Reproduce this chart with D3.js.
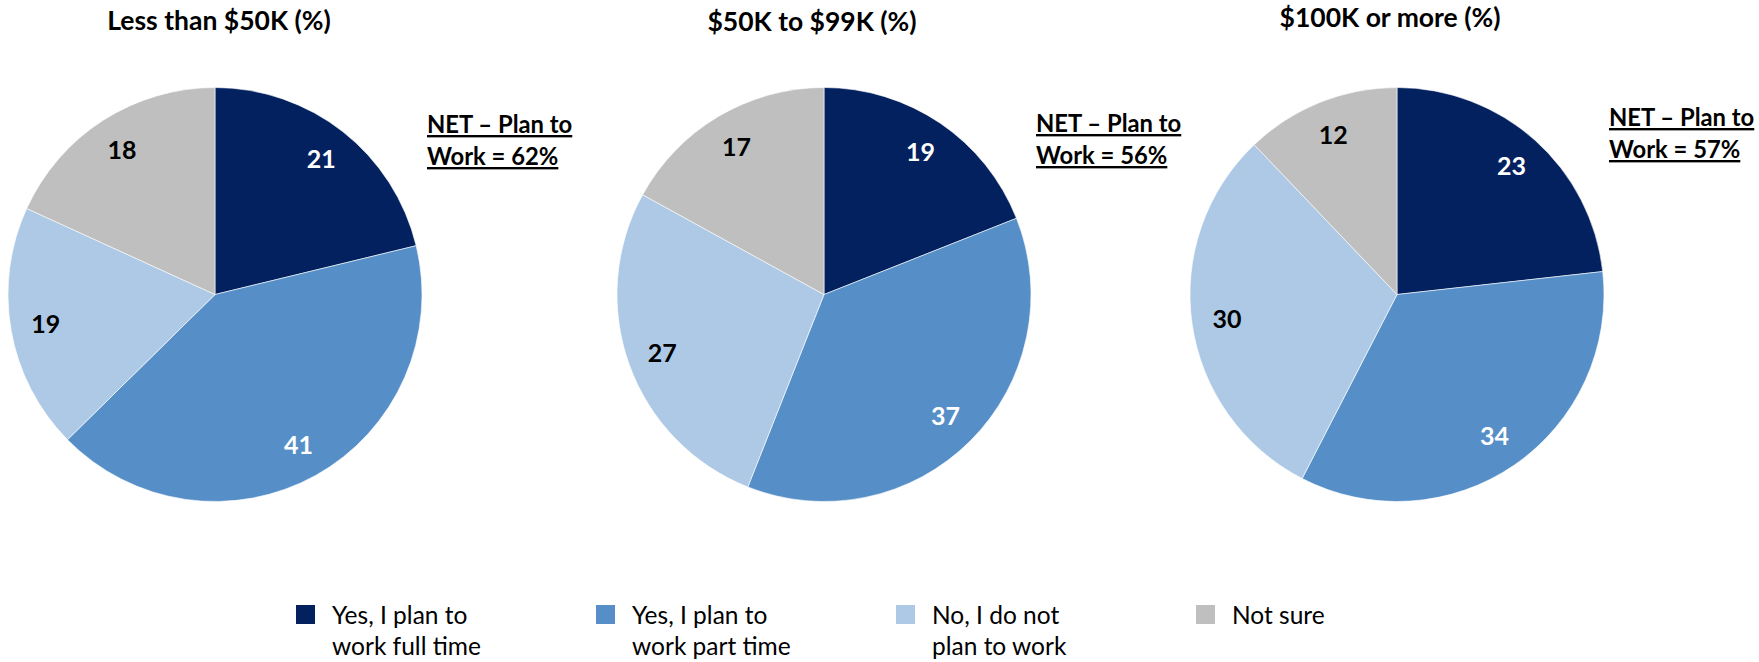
<!DOCTYPE html>
<html>
<head>
<meta charset="utf-8">
<script src="https://cdn.jsdelivr.net/npm/d3@7"></script>
<style>
  html, body { margin: 0; padding: 0; background: #fff; }
  svg { display: block; }
  text { font-family: Lato, "Open Sans", sans-serif; }
</style>
</head>
<body>
<svg id="chart" width="1759" height="662"></svg>
<script>
// ---- data ----
const categories = ["Yes, I plan to work full time", "Yes, I plan to work part time", "No, I do not plan to work", "Not sure"];
const legendLines = [["Yes, I plan to", "work full time"], ["Yes, I plan to", "work part time"], ["No, I do not", "plan to work"], ["Not sure"]];
const groups = ["Less than $50K (%)", "$50K to $99K (%)", "$100K or more (%)"];
const lessThan50K = [21, 41, 19, 18];
const from50Kto99K = [19, 37, 27, 17];
const over100K = [23, 34, 30, 12];
const netPlanToWork = [62, 56, 57];

const seriesValues = [lessThan50K, from50Kto99K, over100K];

// ---- layout ----
const colors = ["#03215F", "#568EC7", "#ADC9E5", "#BFBFBF"];
const labelColors = ["#ffffff", "#ffffff", "#000000", "#000000"];
const centersX = [215, 824, 1397];
const titleY = [30, 31, 27];
const netY = [133, 132, 126];
const cy = 294.5, R = 207;

const svg = d3.select("#chart");

const xScale = d3.scaleOrdinal().domain(groups).range(centersX);
const color = d3.scaleOrdinal().domain(categories).range(colors);
const labelColor = d3.scaleOrdinal().domain(categories).range(labelColors);

const pie = d3.pie().sort(null).value(d => d.value);
const arc = d3.arc().innerRadius(0).outerRadius(R);
const labelArc = d3.arc().innerRadius(R * 0.83).outerRadius(R * 0.83);

groups.forEach((g, gi) => {
  const data = categories.map((c, i) => ({ cat: c, value: seriesValues[gi][i] }));
  const cx = xScale(g);
  const grp = svg.append("g").attr("transform", `translate(${cx},${cy})`);
  const arcs = pie(data);
  grp.selectAll("path.slice").data(arcs).join("path")
    .attr("class", "slice")
    .attr("d", arc)
    .attr("fill", d => color(d.data.cat))
    .attr("stroke", "#ffffff")
    .attr("stroke-width", 0.6);
  grp.selectAll("text.val").data(arcs).join("text")
    .attr("class", "val")
    .attr("transform", d => `translate(${labelArc.centroid(d)})`)
    .attr("text-anchor", "middle")
    .attr("dy", "0.36em")
    .attr("font-size", 25)
    .attr("font-weight", 700)
    .attr("fill", d => labelColor(d.data.cat))
    .text(d => d.data.value);

  // title
  svg.append("text")
    .attr("x", cx + [4, -12, -7][gi])
    .attr("y", titleY[gi])
    .attr("text-anchor", "middle")
    .attr("font-size", 26.5)
    .attr("font-weight", 700)
    .attr("fill", "#000")
    .text(g);

  // NET annotation
  const nx = cx + R + 5;
  const net = svg.append("text")
    .attr("x", nx)
    .attr("y", netY[gi])
    .attr("font-size", 23.8)
    .attr("font-weight", 700)
    .attr("fill", "#000")
    .style("text-decoration", "underline");
  net.append("tspan").attr("x", nx).attr("dy", 0).text("NET \u2013 Plan to");
  net.append("tspan").attr("x", nx).attr("dy", 32).text(`Work = ${netPlanToWork[gi]}%`);
});

// ---- legend ----
const legendX = d3.scalePoint().domain(categories).range([296, 1196]);
const leg = svg.append("g");
categories.forEach((c, i) => {
  const lx = legendX(c);
  leg.append("rect")
    .attr("x", lx).attr("y", 605)
    .attr("width", 19).attr("height", 19)
    .attr("fill", color(c));
  const t = leg.append("text")
    .attr("x", lx + 36).attr("y", 624)
    .attr("font-size", 24.5)
    .attr("fill", "#000");
  legendLines[i].forEach((line, li) => {
    t.append("tspan").attr("x", lx + 36).attr("dy", li === 0 ? 0 : 31).text(line);
  });
});
</script>
</body>
</html>
